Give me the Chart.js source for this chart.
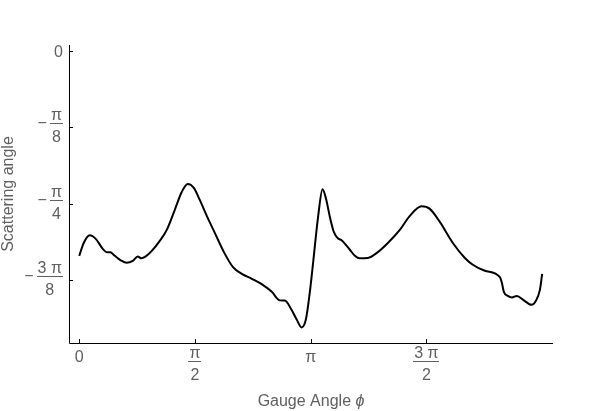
<!DOCTYPE html>
<html>
<head>
<meta charset="utf-8">
<script src="https://cdn.jsdelivr.net/npm/chart.js@4"></script>
<style>
  html, body { margin: 0; padding: 0; background: #fff; }
  #wrap { width: 600px; height: 411px; position: relative; }
</style>
</head>
<body>
<div id="wrap"><canvas id="chart"></canvas></div>
<script>
// gauge angle phi (rad) and scattering angle (rad)
const gaugeAngle = [
  0, 0.061, 0.143, 0.224, 0.319, 0.373, 0.421, 0.482, 0.563, 0.645,
  0.726, 0.794, 0.842, 0.903, 0.984, 1.093, 1.188, 1.297, 1.391, 1.473,
  1.555, 1.636, 1.731, 1.840, 1.962, 2.084, 2.206, 2.342, 2.491, 2.614,
  2.722, 2.790, 2.881, 2.953, 3.017, 3.075, 3.130, 3.174, 3.242, 3.302,
  3.347, 3.401, 3.455, 3.510, 3.564, 3.673, 3.741, 3.808, 3.917, 4.039,
  4.189, 4.351, 4.487, 4.646, 4.758, 4.894, 5.071, 5.234, 5.342, 5.505,
  5.709, 5.736, 5.763, 5.817, 5.871, 5.939, 6.035, 6.139, 6.198, 6.252,
  6.283
];
const scatteringAngle = [
  -1.052, -0.986, -0.947, -0.965, -1.016, -1.034, -1.034, -1.052, -1.075, -1.088,
  -1.078, -1.055, -1.065, -1.055, -1.027, -0.975, -0.919, -0.816, -0.724, -0.683,
  -0.703, -0.765, -0.847, -0.934, -1.032, -1.109, -1.145, -1.170, -1.201, -1.237,
  -1.281, -1.282, -1.329, -1.381, -1.420, -1.381, -1.237, -1.088, -0.851, -0.710,
  -0.755, -0.851, -0.929, -0.962, -0.973, -1.021, -1.052, -1.065, -1.063, -1.037,
  -0.986, -0.919, -0.847, -0.798, -0.811, -0.878, -0.986, -1.063, -1.098, -1.129,
  -1.162, -1.191, -1.237, -1.258, -1.266, -1.258, -1.281, -1.304, -1.283, -1.227,
  -1.145
];

const xTickValues = [0, Math.PI / 2, Math.PI, 3 * Math.PI / 2];
const xTickLabels = ['0', 'π/2', 'π', '3 π/2'];
const yTickValues = [0, -Math.PI / 8, -Math.PI / 4, -3 * Math.PI / 8];
const yTickLabels = ['0', '-π/8', '-π/4', '-3 π/8'];

const xTitle = 'Gauge Angle ';
const xTitleSymbol = 'ϕ';
const yTitle = 'Scattering angle';

const textColor = '#606060';
const labelFont = '16px "Liberation Sans", Arial, sans-serif';
const titleFont = '16px "Liberation Sans", Arial, sans-serif';

function drawFraction(ctx, num, den, cx, barY) {
  const w = Math.max(ctx.measureText(num).width, ctx.measureText(den).width) + 2;
  ctx.textAlign = 'center';
  ctx.textBaseline = 'alphabetic';
  ctx.fillText(num, cx, barY - 3);
  ctx.fillText(den, cx, barY + 19);
  ctx.fillRect(Math.round(cx - w / 2), Math.round(barY), Math.round(w), 1);
  return w;
}

const mathAxes = {
  id: 'mathAxes',
  afterDraw(chart) {
    const { ctx, chartArea: a, scales: { x, y } } = chart;
    ctx.save();

    // axis lines and inward ticks
    ctx.strokeStyle = '#000';
    ctx.lineWidth = 1;
    ctx.beginPath();
    ctx.moveTo(a.left + 0.5, a.top);
    ctx.lineTo(a.left + 0.5, a.bottom + 0.5);
    ctx.lineTo(a.right, a.bottom + 0.5);
    xTickValues.forEach((v) => {
      const px = Math.round(x.getPixelForValue(v)) + 0.5;
      ctx.moveTo(px, a.bottom);
      ctx.lineTo(px, a.bottom - 4);
    });
    yTickValues.forEach((v) => {
      const py = Math.round(y.getPixelForValue(v)) + 0.5;
      ctx.moveTo(a.left, py);
      ctx.lineTo(a.left + 4, py);
    });
    ctx.stroke();

    ctx.fillStyle = textColor;
    ctx.font = labelFont;

    // x tick labels
    xTickValues.forEach((v, i) => {
      const px = x.getPixelForValue(v);
      const parts = xTickLabels[i].split('/');
      if (parts.length === 2) {
        drawFraction(ctx, parts[0], parts[1], px, a.bottom + 18);
      } else {
        ctx.textAlign = 'center';
        ctx.textBaseline = 'alphabetic';
        ctx.fillText(parts[0], px, a.bottom + 19);
      }
    });

    // y tick labels
    const right = a.left - 6;
    yTickValues.forEach((v, i) => {
      const py = y.getPixelForValue(v);
      let txt = yTickLabels[i];
      const neg = txt.startsWith('-');
      if (neg) txt = txt.slice(1);
      const parts = txt.split('/');
      if (parts.length === 2) {
        const barY = py - 4;
        const w = Math.max(ctx.measureText(parts[0]).width, ctx.measureText(parts[1]).width) + 2;
        drawFraction(ctx, parts[0], parts[1], right - w / 2, barY);
        if (neg) {
          ctx.textAlign = 'right';
          ctx.textBaseline = 'alphabetic';
          ctx.fillText('−', right - w - 3, barY + 5);
        }
      } else {
        ctx.textAlign = 'right';
        ctx.textBaseline = 'alphabetic';
        ctx.fillText(parts[0], right, py + 6);
      }
    });

    // axis titles
    ctx.font = titleFont;
    const cx = (a.left + a.right) / 2;
    const w1 = ctx.measureText(xTitle).width;
    ctx.font = 'italic ' + titleFont;
    const w2 = ctx.measureText(xTitleSymbol).width;
    ctx.textAlign = 'left';
    ctx.textBaseline = 'middle';
    ctx.fillText(xTitleSymbol, cx - (w1 + w2) / 2 + w1, 402);
    ctx.font = titleFont;
    ctx.fillText(xTitle, cx - (w1 + w2) / 2, 402);

    ctx.translate(9, (a.top + a.bottom) / 2);
    ctx.rotate(-Math.PI / 2);
    ctx.textAlign = 'center';
    ctx.fillText(yTitle, 0, 0);

    ctx.restore();
  }
};

new Chart(document.getElementById('chart'), {
  type: 'line',
  data: {
    datasets: [{
      data: gaugeAngle.map((g, i) => ({ x: g, y: scatteringAngle[i] })),
      borderColor: '#000',
      borderWidth: 2,
      pointRadius: 0,
      fill: false,
      cubicInterpolationMode: 'monotone'
    }]
  },
  options: {
    responsive: true,
    maintainAspectRatio: false,
    animation: false,
    layout: { padding: { left: 69, top: 45, right: 47, bottom: 68 } },
    plugins: { legend: { display: false }, tooltip: { enabled: false } },
    scales: {
      x: { type: 'linear', min: -0.139, max: 6.43, display: false },
      y: { type: 'linear', min: -1.5, max: 0.031, display: false }
    }
  },
  plugins: [mathAxes]
});
</script>
</body>
</html>
